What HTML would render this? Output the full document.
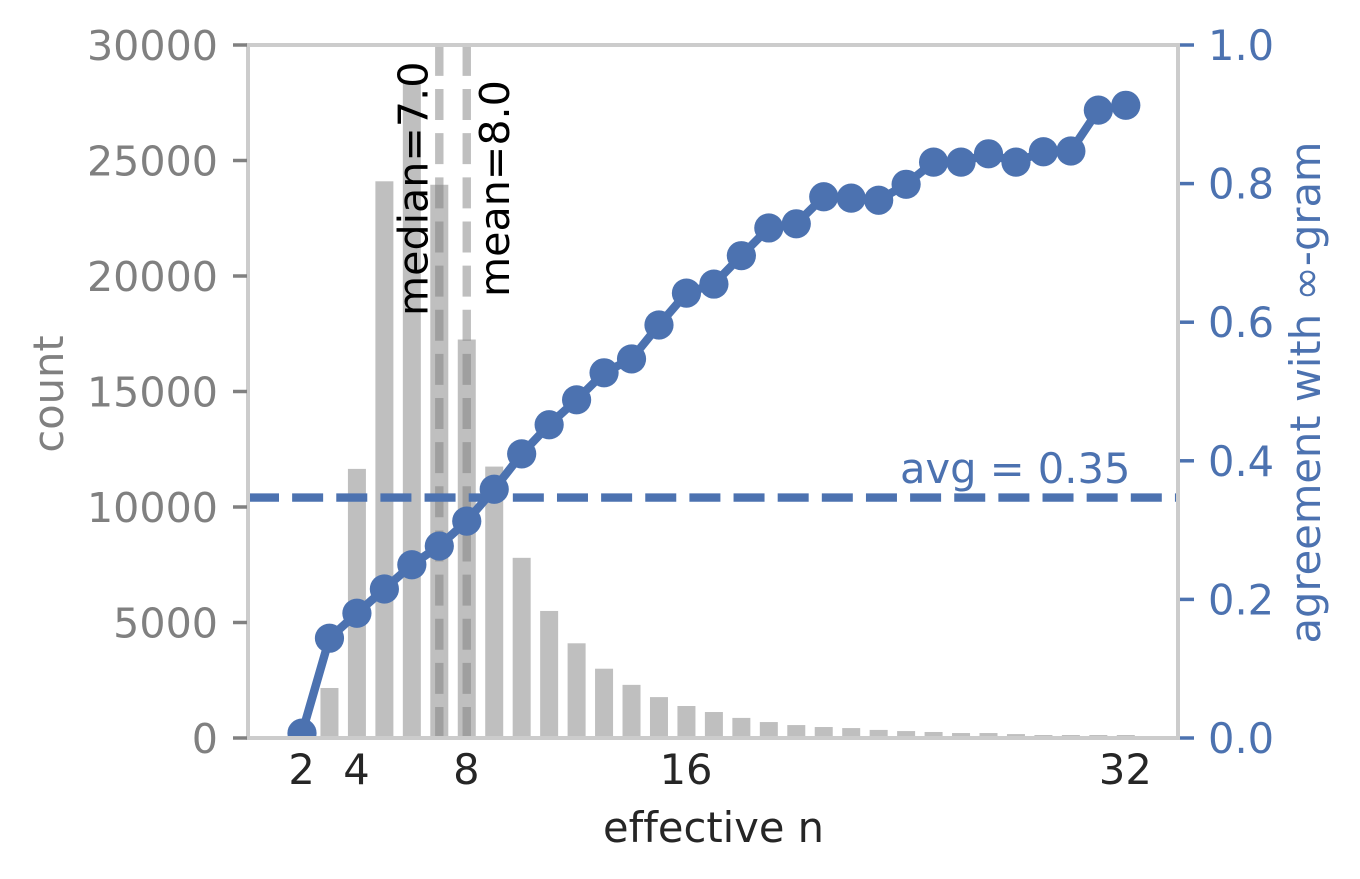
<!DOCTYPE html>
<html>
<head>
<meta charset="utf-8">
<style>
html,body{margin:0;padding:0;background:#fff;width:1360px;height:879px;overflow:hidden}
svg{display:block}
text{font-family:"DejaVu Sans",sans-serif;font-size:41.6px;font-variant-ligatures:none}
text.compact{font-size:41.2px}
</style>
</head>
<body>
<svg id="chart" width="1360" height="879" viewBox="0 0 1360 879" xmlns="http://www.w3.org/2000/svg">
<defs><clipPath id="plot-clip"><rect x="248" y="45" width="930" height="693"/></clipPath></defs>
<rect width="1360" height="879" fill="#fff"/>
<g id="bars" clip-path="url(#plot-clip)"></g>
<g id="refs" clip-path="url(#plot-clip)"></g>
<text class="compact" transform="translate(427.5,316) rotate(-90)" fill="#000">median=7.0</text>
<text class="compact" transform="translate(509,297) rotate(-90)" fill="#000">mean=8.0</text>
<g id="series" clip-path="url(#plot-clip)"></g>
<text x="900" y="483" fill="#4c72b0">avg = 0.35</text>
<g id="frame"></g>
<text x="713.5" y="842" text-anchor="middle" fill="#262626">effective n</text>
<text transform="translate(63,394) rotate(-90)" text-anchor="middle" fill="#808080">count</text>
<text transform="translate(1320,392.5) rotate(-90)" text-anchor="middle" fill="#4c72b0">agreement with ∞-gram</text>
</svg>
<script>
const barN = [3,4,5,6,7,8,9,10,11,12,13,14,15,16,17,18,19,20,21,22,23,24,25,26,27,28,29,30,31,32];
const barCounts = [2165,11650,24100,28450,23950,17250,11750,7800,5500,4100,3000,2300,1770,1385,1125,870,690,560,475,430,350,300,260,215,215,170,130,130,130,130];
const lineN = [2,3,4,5,6,7,8,9,10,11,12,13,14,15,16,17,18,19,20,21,22,23,24,25,26,27,28,29,30,31,32];
const agreement = [0.007,0.144,0.180,0.215,0.250,0.277,0.313,0.359,0.410,0.452,0.488,0.527,0.547,0.596,0.642,0.655,0.696,0.736,0.742,0.781,0.779,0.776,0.799,0.831,0.831,0.843,0.831,0.846,0.847,0.906,0.913];
const xTicks = [2,4,8,16,32];
const leftTicks = [0,5000,10000,15000,20000,25000,30000];
const rightTicks = [0,0.2,0.4,0.6,0.8,1.0];
const medianValue = 7;
const meanValue = 8;
const avgValue = 0.347;

const NS = 'http://www.w3.org/2000/svg';
const LEFT = 248, RIGHT = 1178, TOP = 45, BOTTOM = 738;
function xPos(n){ return 302 + (n - 2) * 27.46; }
function yCount(v){ return BOTTOM - v / 30000 * (BOTTOM - TOP); }
function yAgree(v){ return BOTTOM - v * (BOTTOM - TOP); }
function make(tag, parent, attrs){
  const el = document.createElementNS(NS, tag);
  for (const k in attrs) el.setAttribute(k, attrs[k]);
  parent.appendChild(el);
  return el;
}

const barsG = document.getElementById('bars');
barN.forEach(function(n, i){
  const el = make('rect', barsG, {x: xPos(n) - 9, y: yCount(barCounts[i]), width: 18, height: BOTTOM - yCount(barCounts[i]), fill: '#bfbfbf'});
  
  
});

const refsG = document.getElementById('refs');
[medianValue, meanValue].forEach(function(v){
  const el = make('line', refsG, {x1: xPos(v), x2: xPos(v), y1: BOTTOM, y2: TOP, stroke: '#808080', 'stroke-opacity': 0.5, 'stroke-width': 8.4, 'stroke-dasharray': '31 13.14'});
  
  
});

const seriesG = document.getElementById('series');
const avgLine = make('line', seriesG, {x1: LEFT, x2: RIGHT, y1: yAgree(avgValue), y2: yAgree(avgValue), stroke: '#4c72b0', 'stroke-width': 8.4, 'stroke-dasharray': '31 13.14'});


const pts = lineN.map(function(n, i){ return xPos(n) + ',' + yAgree(agreement[i]); }).join(' ');
const poly = make('polyline', seriesG, {points: pts, fill: 'none', stroke: '#4c72b0', 'stroke-width': 8.4, 'stroke-linejoin': 'round'});


lineN.forEach(function(n, i){
  const el = make('circle', seriesG, {cx: xPos(n), cy: yAgree(agreement[i]), r: 14.6, fill: '#4c72b0'});
  
  
});

const frameG = document.getElementById('frame');
const spine = make('rect', frameG, {x: LEFT, y: TOP, width: RIGHT - LEFT, height: BOTTOM - TOP, fill: 'none', stroke: '#cccccc', 'stroke-width': 4});



xTicks.forEach(function(t){
  const el = make('text', frameG, {x: xPos(t) - 0.4, y: 784, 'text-anchor': 'middle', fill: '#262626'});
  el.textContent = String(t);
  
  
});
leftTicks.forEach(function(t){
  const tick = make('line', frameG, {x1: 233, x2: 247, y1: yCount(t), y2: yCount(t), stroke: '#808080', 'stroke-width': 3.5});
  
  
  const el = make('text', frameG, {x: 218, y: yCount(t) + 15, 'text-anchor': 'end', fill: '#808080', 'class': 'compact'});
  el.textContent = String(t);
  
  
});
rightTicks.forEach(function(t){
  const tick = make('line', frameG, {x1: 1180, x2: 1194, y1: yAgree(t), y2: yAgree(t), stroke: '#4c72b0', 'stroke-width': 3.5});
  
  
  const el = make('text', frameG, {x: 1208, y: yAgree(t) + 15, fill: '#4c72b0'});
  el.textContent = t.toFixed(1);
  
  
});
</script>
</body>
</html>
